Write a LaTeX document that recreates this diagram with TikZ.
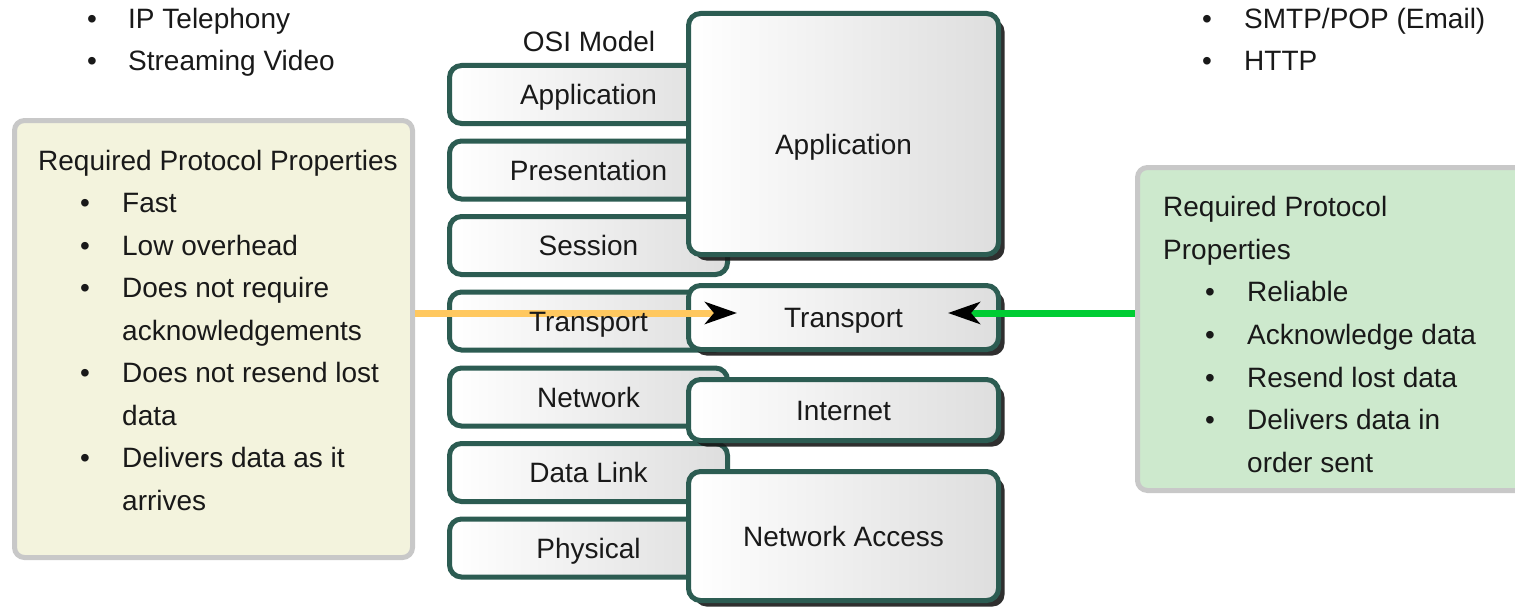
\documentclass[tikz,border=0pt]{standalone}
\usepackage{fontspec}
\setmainfont{Liberation Sans}
\usetikzlibrary{arrows.meta,shadows}

\definecolor{layeredge}{RGB}{44,92,82}
\definecolor{notecream}{RGB}{243,243,221}
\definecolor{notegreen}{RGB}{205,233,205}
\definecolor{noteedge}{RGB}{200,200,200}
\definecolor{udpline}{RGB}{255,200,95}
\definecolor{tcpline}{RGB}{0,204,51}
\definecolor{inktext}{RGB}{25,25,25}

% text sizes
\newcommand\layerfont{\fontsize{28}{34}\selectfont}
\newcommand\listfont{\fontsize{28}{42.5}\selectfont}
% bullet list helpers
\newcommand\itm{\hspace*{42pt}\makebox[42pt][l]{\textbullet}}
\newcommand\cont{\hspace*{84pt}}

\tikzset{
  layertext/.style={inner sep=0pt, text=inktext, font=\layerfont,
    text height=24pt, text depth=4pt},
  layer/.style={layertext, draw=layeredge, line width=5pt, rounded corners=12pt,
    left color=white, right color=black!13},
  osilayer/.style={layer, minimum width=278pt, minimum height=58pt},
  tcplayer/.style={layer, minimum width=310pt,
    drop shadow={fill=black!90, opacity=0.9, shadow xshift=6pt, shadow yshift=-6pt}},
  note/.style={draw=noteedge, line width=5pt, rounded corners=10pt, inner sep=0pt},
  notetext/.style={anchor=north west, inner sep=0pt, align=left,
    text=inktext, font=\listfont},
  udp/.style={draw=udpline, line width=7pt,
    -{Stealth[black, length=32pt, width=22pt, inset=9pt]}},
  tcp/.style={draw=tcpline, line width=7pt,
    -{Stealth[black, length=32pt, width=22pt, inset=9pt]}},
}

\begin{document}
\begin{tikzpicture}[x=1pt, y=-1pt]
\useasboundingbox (0,0) rectangle (1515,610);
\fill[white] (0,0) rectangle (1515,610);

% example applications
\node[notetext, font=\fontsize{28}{42}\selectfont] (udpapps) at (87,8)
  {\makebox[41pt][l]{\textbullet}IP Telephony\\
   \makebox[41pt][l]{\textbullet}Streaming Video};
\node[notetext, font=\fontsize{28}{42}\selectfont] (tcpapps) at (1202,8)
  {\makebox[42pt][l]{\textbullet}SMTP/POP (Email)\\
   \makebox[42pt][l]{\textbullet}HTTP};

% property notes
\node[note, fill=notecream, minimum width=398pt, minimum height=437pt] (lbox) at (213.5,339) {};
\node[notetext] (ltext) at (38,150)
  {Required Protocol Properties\\
   \itm Fast\\
   \itm Low overhead\\
   \itm Does not require\\
   \cont acknowledgements\\
   \itm Does not resend lost\\
   \cont data\\
   \itm Delivers data as it\\
   \cont arrives};

\node[note, fill=notegreen, minimum width=393pt, minimum height=323pt] (rbox) at (1334,329) {};
\node[notetext, font=\fontsize{28}{42.7}\selectfont] (rtext) at (1163,196)
  {Required Protocol\\
   Properties\\
   \itm Reliable\\
   \itm Acknowledge data\\
   \itm Resend lost data\\
   \itm Delivers data in\\
   \cont order sent};

% OSI stack
\node[text=inktext, font=\layerfont] (osititle) at (589,41) {OSI Model};
\node[osilayer] (oapp)  at (588.5,94.5)  {Application};
\node[osilayer] (opres) at (588.5,170)   {Presentation};
\node[osilayer] (osess) at (588.5,245.5) {Session};
\node[osilayer] (otran) at (588.5,321)   {};
\node[osilayer] (onet)  at (588.5,397)   {Network};
\node[osilayer] (olink) at (588.5,472.5) {Data Link};
\node[osilayer] (ophys) at (588.5,548)   {Physical};

% TCP/IP stack
\node[tcplayer, minimum height=241pt, text height=44pt] (tapp) at (843.5,134) {Application};
\node[tcplayer, minimum height=64pt] (ttran) at (843.5,317.5) {Transport};
\node[tcplayer, minimum height=61pt] (tnet)  at (843.5,410)   {Internet};
\node[tcplayer, minimum height=129pt] (tacc) at (843.5,536)   {Network Access};

% transport protocol pointers
\coordinate (udptip) at (737,313);
\coordinate (tcptip) at (948,313);
\draw[udp] (lbox.east |- udptip) -- (udptip);
\draw[tcp] (rbox.west |- tcptip) -- (tcptip);

% OSI transport label sits above the pointer line
\node[layertext] (otrantext) at (otran.center) {Transport};
\end{tikzpicture}
\end{document}
